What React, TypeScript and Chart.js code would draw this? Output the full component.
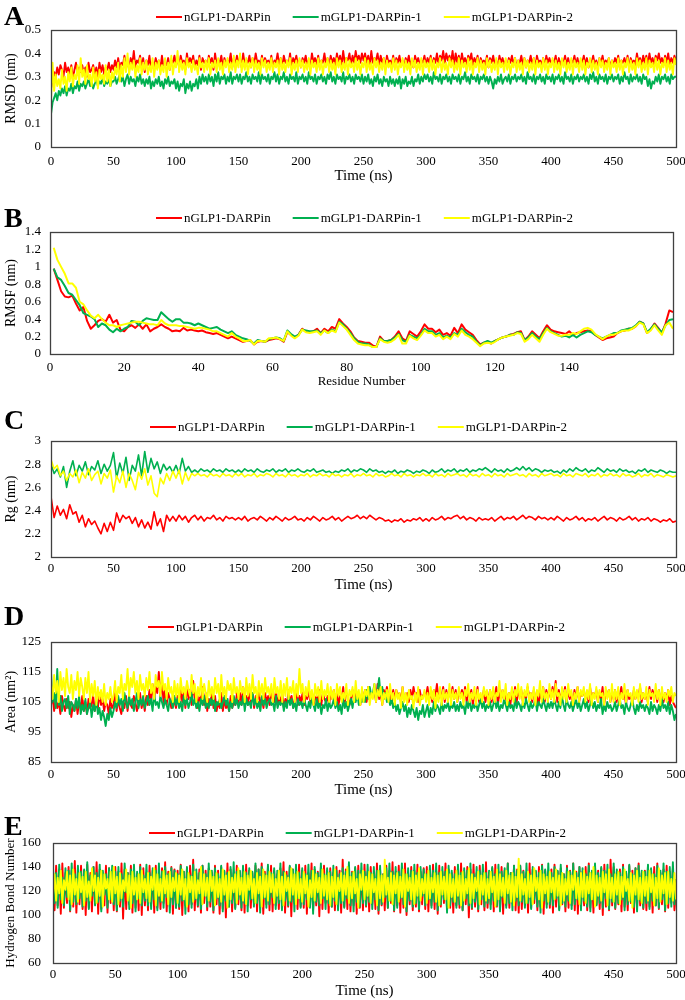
import React, { useEffect, useRef } from "react";
import { Chart, registerables } from "chart.js";

Chart.register(...registerables);

const FONT = "'Liberation Serif', 'Times New Roman', serif";
const SERIES_NAMES = ["nGLP1-DARPin", "mGLP1-DARPin-1", "mGLP1-DARPin-2"];
const SERIES_COLORS = ["#ff0000", "#00b050", "#ffff00"];

// time between stored frames (ns)
const FRAME_STEP_FINE = 1.25; // panels A, D, E
const FRAME_STEP_RG = 2.5;    // panel C

// ---------- A: RMSD (nm), one value every 1.25 ns ----------
const RMSD_N = [
  .25,.29,.32,.30,.34,.31,.35,.33,.30,.36,.32,.34,.31,.35,.29,.33,.36,.31,.34,.32,
  .35,.31,.34,.30,.36,.32,.33,.35,.31,.34,.30,.36,.32,.35,.31,.34,.33,.36,.32,.35,
  .33,.37,.34,.38,.33,.36,.35,.39,.34,.37,.33,.38,.35,.41,.34,.37,.36,.39,.34,.38,
  .32,.37,.35,.39,.33,.36,.34,.38,.35,.37,.33,.39,.34,.36,.35,.38,.33,.37,.36,.39,
  .35,.38,.34,.39,.36,.37,.33,.40,.35,.38,.36,.39,.34,.37,.35,.39,.33,.38,.36,.37,
  .34,.39,.36,.38,.33,.40,.35,.37,.36,.39,.34,.38,.35,.37,.36,.40,.34,.38,.35,.39,
  .36,.38,.34,.40,.35,.37,.36,.39,.34,.38,.35,.40,.36,.37,.34,.39,.35,.38,.36,.37,
  .35,.39,.34,.37,.36,.40,.35,.38,.34,.39,.36,.37,.35,.40,.34,.38,.36,.39,.35,.37,
  .34,.38,.36,.39,.35,.37,.34,.40,.36,.38,.35,.39,.34,.37,.36,.40,.35,.38,.34,.39,
  .36,.38,.35,.40,.36,.39,.35,.41,.36,.38,.37,.40,.35,.39,.36,.41,.37,.39,.36,.40,
  .37,.40,.36,.39,.35,.41,.36,.38,.37,.40,.35,.39,.36,.38,.34,.39,.36,.37,.35,.39,
  .34,.38,.36,.39,.35,.37,.34,.38,.36,.39,.35,.37,.34,.39,.36,.38,.35,.37,.36,.39,
  .35,.38,.36,.39,.34,.38,.36,.40,.35,.39,.37,.41,.36,.40,.37,.39,.36,.41,.35,.40,
  .36,.39,.35,.40,.36,.38,.35,.39,.37,.40,.35,.38,.36,.39,.34,.38,.36,.37,.35,.39,
  .34,.38,.36,.39,.35,.37,.34,.39,.36,.38,.35,.37,.34,.38,.36,.39,.35,.38,.34,.37,
  .36,.39,.35,.38,.34,.37,.36,.39,.35,.38,.34,.39,.36,.37,.35,.38,.34,.39,.36,.38,
  .35,.37,.36,.39,.34,.38,.35,.37,.36,.39,.35,.38,.34,.37,.36,.39,.35,.38,.34,.37,
  .36,.39,.35,.38,.34,.37,.36,.39,.35,.37,.34,.38,.36,.39,.35,.37,.36,.38,.34,.37,
  .35,.38,.36,.39,.34,.37,.36,.38,.35,.39,.34,.38,.36,.37,.35,.40,.36,.38,.35,.39,
  .36,.39,.35,.40,.36,.38,.35,.39,.37,.40,.36,.38,.35,.39,.36,.40,.35,.38,.36,.39,
  .37,
];
const RMSD_M1 = [
  .14,.19,.21,.23,.20,.24,.22,.25,.23,.26,.22,.25,.24,.27,.23,.26,.25,.28,.24,.27,
  .26,.28,.25,.27,.29,.26,.28,.25,.27,.29,.26,.28,.27,.30,.26,.28,.27,.29,.26,.28,
  .28,.30,.27,.29,.31,.28,.30,.26,.29,.31,.27,.30,.28,.29,.26,.30,.28,.31,.27,.29,
  .26,.29,.27,.30,.25,.28,.26,.29,.27,.30,.26,.28,.25,.29,.27,.30,.26,.28,.27,.29,
  .25,.28,.24,.27,.26,.29,.23,.27,.25,.28,.24,.27,.26,.29,.25,.30,.27,.31,.28,.30,
  .27,.31,.28,.30,.26,.31,.28,.32,.27,.30,.29,.31,.27,.30,.28,.32,.27,.30,.29,.31,
  .28,.31,.27,.30,.29,.32,.28,.30,.27,.31,.29,.30,.28,.32,.27,.31,.29,.30,.28,.31,
  .27,.30,.29,.32,.28,.31,.27,.30,.29,.32,.28,.30,.27,.31,.29,.30,.28,.32,.27,.30,
  .29,.31,.28,.30,.27,.32,.29,.30,.28,.31,.27,.30,.29,.31,.28,.30,.27,.31,.29,.32,
  .28,.30,.27,.31,.29,.30,.28,.32,.27,.30,.29,.31,.28,.30,.27,.31,.29,.30,.28,.31,
  .27,.30,.28,.31,.27,.29,.26,.30,.28,.31,.27,.29,.26,.30,.28,.29,.26,.30,.27,.29,
  .26,.29,.27,.30,.25,.29,.27,.30,.26,.28,.27,.30,.26,.29,.28,.31,.27,.30,.28,.31,
  .29,.31,.28,.30,.27,.32,.29,.30,.28,.31,.27,.30,.29,.31,.28,.30,.27,.31,.29,.30,
  .28,.31,.27,.30,.29,.32,.28,.30,.27,.31,.29,.30,.28,.31,.27,.30,.29,.31,.28,.30,
  .27,.30,.28,.25,.29,.27,.30,.28,.31,.27,.29,.30,.28,.31,.27,.30,.29,.31,.28,.30,
  .29,.31,.28,.30,.27,.32,.29,.30,.28,.31,.27,.30,.29,.31,.28,.30,.27,.31,.29,.30,
  .28,.31,.27,.30,.29,.31,.28,.30,.27,.32,.29,.30,.28,.31,.27,.30,.29,.31,.28,.30,
  .29,.31,.28,.30,.27,.31,.29,.32,.28,.30,.27,.31,.29,.30,.28,.31,.27,.30,.29,.31,
  .28,.30,.29,.31,.27,.30,.28,.32,.29,.30,.27,.31,.28,.30,.29,.31,.28,.30,.27,.31,
  .29,.30,.26,.29,.25,.28,.27,.30,.28,.31,.27,.30,.29,.31,.28,.30,.27,.31,.29,.30,
  .30,
];
const RMSD_M2 = [
  .20,.36,.24,.31,.26,.29,.25,.33,.27,.30,.24,.32,.28,.34,.26,.31,.29,.35,.27,.38,
  .30,.33,.27,.35,.29,.31,.26,.34,.28,.32,.25,.33,.29,.31,.27,.35,.28,.33,.26,.32,
  .29,.34,.31,.36,.28,.35,.30,.38,.32,.40,.31,.36,.33,.37,.30,.35,.32,.38,.31,.36,
  .33,.37,.31,.35,.32,.38,.30,.36,.33,.37,.31,.35,.32,.38,.30,.36,.33,.39,.31,.36,
  .34,.41,.32,.37,.33,.36,.31,.38,.34,.36,.32,.37,.33,.35,.31,.38,.34,.36,.32,.37,
  .33,.38,.31,.36,.34,.37,.32,.38,.33,.36,.31,.37,.34,.38,.32,.36,.33,.39,.32,.37,
  .34,.40,.32,.37,.33,.38,.31,.36,.34,.38,.32,.37,.33,.36,.31,.38,.34,.37,.32,.36,
  .33,.38,.32,.36,.34,.37,.31,.38,.33,.36,.32,.37,.34,.38,.31,.36,.33,.37,.32,.38,
  .34,.37,.32,.36,.33,.38,.31,.37,.34,.36,.32,.38,.33,.37,.31,.36,.34,.38,.32,.37,
  .33,.36,.31,.38,.34,.37,.32,.36,.33,.38,.31,.37,.34,.36,.32,.38,.33,.37,.31,.36,
  .34,.38,.32,.37,.33,.36,.31,.38,.34,.37,.32,.36,.33,.38,.31,.37,.34,.36,.32,.38,
  .33,.37,.31,.36,.34,.38,.32,.37,.33,.36,.31,.38,.34,.37,.32,.36,.33,.38,.31,.37,
  .34,.36,.32,.38,.33,.37,.31,.36,.34,.38,.32,.37,.33,.36,.31,.38,.34,.37,.32,.36,
  .33,.38,.31,.37,.34,.36,.32,.38,.33,.37,.31,.36,.34,.38,.32,.37,.33,.36,.31,.38,
  .34,.37,.32,.36,.33,.38,.31,.37,.34,.36,.32,.38,.33,.37,.31,.36,.34,.38,.32,.37,
  .33,.36,.31,.38,.34,.37,.32,.36,.33,.38,.31,.37,.34,.36,.32,.38,.33,.37,.31,.36,
  .34,.38,.32,.37,.33,.36,.31,.38,.34,.37,.32,.36,.33,.38,.31,.37,.34,.36,.32,.38,
  .33,.37,.31,.36,.34,.38,.32,.37,.33,.36,.31,.38,.34,.37,.32,.36,.33,.38,.31,.37,
  .34,.36,.32,.38,.33,.37,.31,.36,.34,.38,.32,.37,.33,.36,.31,.38,.34,.37,.32,.36,
  .33,.38,.31,.37,.34,.36,.32,.38,.33,.37,.31,.36,.34,.38,.32,.37,.33,.36,.31,.38,
  .35,
];

// ---------- B: RMSF (nm) per residue 1..168 ----------
const RMSF_N = [
  .98,.85,.72,.66,.65,.67,.58,.50,.54,.38,
  .29,.33,.38,.40,.37,.45,.36,.39,.28,.26,
  .31,.33,.30,.34,.29,.34,.26,.29,.31,.34,
  .31,.29,.26,.27,.26,.30,.27,.28,.27,.26,
  .27,.25,.24,.23,.24,.22,.20,.18,.20,.18,
  .16,.14,.15,.16,.11,.14,.15,.14,.16,.17,
  .18,.17,.14,.25,.22,.19,.22,.29,.26,.25,
  .26,.29,.24,.29,.26,.31,.29,.40,.35,.31,
  .26,.19,.15,.14,.13,.13,.10,.08,.20,.15,
  .15,.16,.20,.26,.18,.15,.26,.23,.20,.26,
  .34,.29,.29,.25,.28,.22,.24,.21,.30,.24,
  .34,.28,.25,.22,.16,.11,.13,.14,.12,.15,
  .17,.19,.20,.22,.23,.25,.26,.16,.20,.26,
  .22,.18,.26,.33,.28,.26,.25,.24,.23,.26,
  .22,.24,.25,.26,.27,.26,.22,.19,.16,.18,
  .19,.20,.24,.26,.27,.29,.29,.32,.37,.35,
  .24,.28,.35,.30,.24,.35,.50,.48,
];
const RMSF_M1 = [
  .98,.88,.85,.78,.70,.68,.62,.56,.47,.45,
  .43,.40,.31,.35,.33,.28,.25,.29,.26,.29,
  .31,.38,.37,.33,.38,.41,.40,.39,.39,.48,
  .44,.40,.37,.40,.40,.36,.36,.35,.33,.35,
  .33,.31,.29,.30,.31,.28,.26,.24,.26,.22,
  .20,.18,.17,.15,.12,.16,.15,.14,.17,.18,
  .19,.18,.15,.27,.23,.20,.22,.28,.27,.26,
  .26,.27,.24,.27,.24,.28,.26,.37,.34,.29,
  .24,.18,.14,.12,.12,.11,.08,.08,.18,.15,
  .15,.16,.19,.23,.16,.14,.22,.20,.18,.22,
  .29,.26,.26,.22,.24,.19,.21,.19,.24,.22,
  .29,.25,.22,.20,.14,.10,.13,.15,.13,.15,
  .17,.19,.20,.22,.22,.25,.24,.16,.19,.24,
  .20,.17,.24,.30,.26,.24,.22,.20,.21,.19,
  .22,.19,.22,.24,.26,.25,.22,.20,.18,.20,
  .22,.24,.24,.27,.28,.29,.30,.33,.37,.35,
  .25,.29,.34,.29,.25,.33,.39,.40,
];
const RMSF_M2 = [
  1.22,1.08,1.00,.92,.81,.81,.76,.60,.57,.50,
  .44,.41,.45,.40,.36,.33,.33,.31,.33,.34,
  .35,.36,.37,.37,.36,.35,.34,.34,.33,.39,
  .35,.33,.33,.33,.32,.32,.31,.30,.29,.30,
  .30,.29,.28,.26,.26,.24,.22,.20,.24,.20,
  .18,.15,.15,.16,.11,.15,.15,.14,.18,.18,
  .19,.17,.15,.26,.21,.18,.21,.28,.25,.24,
  .25,.26,.22,.27,.24,.27,.25,.36,.32,.28,
  .22,.16,.12,.11,.10,.10,.08,.08,.17,.14,
  .13,.14,.17,.22,.12,.12,.21,.18,.16,.21,
  .27,.24,.24,.20,.22,.17,.20,.17,.23,.20,
  .27,.22,.20,.17,.13,.09,.12,.13,.12,.14,
  .17,.19,.20,.21,.22,.24,.23,.14,.17,.22,
  .18,.14,.22,.29,.25,.23,.21,.21,.22,.22,
  .24,.23,.26,.29,.30,.28,.23,.20,.17,.20,
  .22,.22,.24,.26,.27,.27,.29,.32,.36,.34,
  .24,.27,.33,.27,.22,.33,.36,.29,
];

// ---------- C: Rg (nm), one value every 2.5 ns ----------
const RG_N = [
  2.52,2.34,2.44,2.36,2.41,2.33,2.45,2.37,2.39,2.30,2.36,2.26,2.33,2.28,2.31,2.25,2.20,2.29,2.22,2.30,
  2.23,2.38,2.30,2.36,2.33,2.35,2.29,2.34,2.26,2.32,2.25,2.30,2.24,2.39,2.27,2.33,2.22,2.36,2.31,2.35,
  2.31,2.36,2.32,2.35,2.30,2.34,2.36,2.32,2.35,2.31,2.34,2.33,2.36,2.32,2.34,2.31,2.35,2.33,2.34,2.32,
  2.34,2.32,2.35,2.31,2.33,2.34,2.32,2.35,2.33,2.31,2.34,2.32,2.35,2.33,2.31,2.34,2.32,2.33,2.35,2.32,
  2.33,2.31,2.34,2.32,2.35,2.33,2.31,2.34,2.32,2.33,2.35,2.32,2.34,2.31,2.33,2.35,2.33,2.34,2.36,2.33,
  2.35,2.33,2.36,2.34,2.32,2.34,2.33,2.31,2.32,2.30,2.32,2.31,2.33,2.30,2.32,2.31,2.33,2.32,2.34,2.31,
  2.33,2.31,2.34,2.32,2.33,2.35,2.32,2.34,2.33,2.35,2.36,2.33,2.35,2.32,2.34,2.33,2.31,2.34,2.32,2.33,
  2.32,2.34,2.31,2.33,2.35,2.32,2.34,2.33,2.35,2.32,2.34,2.36,2.33,2.35,2.34,2.32,2.35,2.33,2.34,2.32,
  2.34,2.32,2.35,2.33,2.31,2.34,2.32,2.33,2.35,2.32,2.34,2.31,2.33,2.32,2.34,2.31,2.33,2.35,2.32,2.34,
  2.33,2.31,2.34,2.32,2.33,2.35,2.32,2.34,2.31,2.33,2.32,2.34,2.31,2.33,2.32,2.30,2.32,2.31,2.33,2.30,
  2.31,
];
const RG_M1 = [
  2.80,2.72,2.76,2.69,2.78,2.60,2.74,2.83,2.70,2.79,2.74,2.82,2.71,2.78,2.75,2.83,2.72,2.80,2.74,2.79,
  2.90,2.68,2.81,2.72,2.86,2.66,2.79,2.74,2.88,2.70,2.91,2.73,2.85,2.76,2.82,2.72,2.80,2.75,2.78,2.73,
  2.79,2.72,2.85,2.74,2.78,2.73,2.75,2.73,2.76,2.74,2.75,2.73,2.76,2.74,2.75,2.73,2.76,2.74,2.75,2.73,
  2.75,2.73,2.76,2.74,2.75,2.73,2.76,2.74,2.73,2.75,2.74,2.76,2.73,2.75,2.74,2.76,2.73,2.75,2.74,2.76,
  2.74,2.73,2.75,2.74,2.76,2.73,2.74,2.75,2.73,2.74,2.72,2.74,2.73,2.75,2.74,2.76,2.73,2.75,2.74,2.76,
  2.75,2.73,2.76,2.74,2.75,2.73,2.74,2.72,2.74,2.73,2.75,2.72,2.74,2.73,2.75,2.74,2.72,2.74,2.73,2.75,
  2.74,2.72,2.75,2.73,2.74,2.76,2.73,2.75,2.74,2.76,2.73,2.75,2.74,2.76,2.73,2.75,2.74,2.76,2.75,2.77,
  2.75,2.73,2.76,2.74,2.75,2.73,2.76,2.74,2.75,2.77,2.75,2.78,2.75,2.77,2.74,2.76,2.75,2.73,2.75,2.74,
  2.75,2.73,2.74,2.72,2.75,2.73,2.76,2.74,2.77,2.75,2.74,2.76,2.73,2.75,2.74,2.77,2.75,2.73,2.76,2.74,
  2.75,2.73,2.76,2.74,2.75,2.73,2.74,2.72,2.75,2.74,2.76,2.73,2.75,2.74,2.73,2.75,2.74,2.72,2.74,2.73,
  2.73,
];
const RG_M2 = [
  2.84,2.76,2.79,2.70,2.74,2.66,2.72,2.69,2.75,2.64,2.73,2.68,2.76,2.66,2.71,2.74,2.63,2.72,2.68,2.75,
  2.56,2.70,2.64,2.74,2.60,2.72,2.66,2.58,2.73,2.67,2.76,2.62,2.70,2.55,2.52,2.68,2.63,2.72,2.66,2.74,
  2.68,2.75,2.63,2.73,2.66,2.72,2.70,2.72,2.70,2.71,2.69,2.72,2.70,2.71,2.69,2.72,2.70,2.71,2.69,2.72,
  2.70,2.72,2.69,2.71,2.70,2.72,2.69,2.71,2.70,2.72,2.71,2.69,2.72,2.70,2.71,2.69,2.72,2.70,2.71,2.69,
  2.71,2.70,2.72,2.69,2.71,2.70,2.72,2.70,2.71,2.69,2.72,2.70,2.71,2.69,2.71,2.70,2.72,2.69,2.71,2.70,
  2.72,2.70,2.71,2.69,2.72,2.70,2.71,2.69,2.70,2.72,2.70,2.71,2.69,2.72,2.70,2.71,2.69,2.71,2.70,2.72,
  2.70,2.71,2.69,2.72,2.70,2.71,2.69,2.72,2.70,2.71,2.72,2.70,2.71,2.69,2.72,2.70,2.71,2.69,2.72,2.70,
  2.71,2.69,2.72,2.70,2.71,2.69,2.72,2.70,2.71,2.72,2.70,2.71,2.69,2.72,2.70,2.71,2.69,2.72,2.70,2.71,
  2.72,2.70,2.71,2.69,2.72,2.70,2.71,2.69,2.72,2.71,2.70,2.72,2.69,2.71,2.70,2.72,2.69,2.71,2.70,2.72,
  2.70,2.71,2.69,2.72,2.70,2.71,2.69,2.70,2.72,2.69,2.71,2.70,2.72,2.69,2.71,2.70,2.69,2.71,2.70,2.69,
  2.70,
];

// ---------- D: Area (nm²), one value every 1.25 ns ----------
const AREA_N = [
  104,107,102,106,103,105,101,107,104,102,106,103,105,100,104,102,106,101,105,103,
  107,102,105,101,106,103,104,107,102,105,103,108,104,106,102,105,104,101,106,103,
  104,108,102,106,103,101,105,103,107,102,106,104,103,107,105,102,104,108,103,106,
  102,107,104,109,105,111,106,110,108,115,107,112,105,109,104,108,106,103,107,105,
  103,107,104,110,105,108,103,111,106,109,104,112,106,108,103,107,105,110,104,108,
  102,106,104,109,103,107,102,105,103,108,102,106,103,104,102,107,103,105,104,108,
  105,108,104,110,106,107,104,109,105,108,103,107,105,109,104,106,103,108,105,107,
  104,108,106,105,109,104,107,105,108,103,106,104,109,105,107,103,106,108,104,107,
  105,108,104,107,106,109,105,108,104,106,107,105,109,104,108,106,105,107,104,108,
  106,109,105,108,104,107,106,110,105,108,107,104,106,109,105,108,106,107,104,108,
  107,109,105,110,106,108,107,109,105,111,106,108,104,109,107,110,106,108,105,109,
  106,109,107,108,105,110,106,107,108,105,109,106,110,107,108,105,109,106,107,108,
  107,110,106,108,105,109,107,111,106,108,107,110,105,109,106,108,107,110,106,109,
  105,108,107,109,106,110,105,108,107,109,104,108,106,110,105,107,106,109,105,108,
  106,109,105,108,107,110,104,108,106,109,105,107,106,108,104,109,106,110,105,108,
  107,109,105,108,106,110,107,108,105,109,106,107,104,108,106,110,105,109,107,108,
  106,110,107,112,105,109,106,108,107,110,105,109,106,108,104,109,106,110,105,108,
  107,109,106,108,105,110,106,108,107,109,105,108,106,110,104,108,107,109,105,108,
  106,109,105,108,107,110,106,108,104,109,106,107,105,109,106,108,107,110,105,108,
  106,108,105,110,106,109,107,108,105,109,106,107,105,108,106,109,104,107,105,104,
  103,
];
const AREA_M1 = [
  115,105,108,103,116,104,107,102,105,106,103,107,101,105,104,102,106,103,107,101,
  104,102,106,101,103,105,100,104,102,106,101,103,99,102,100,97,101,99,103,100,
  102,105,103,107,104,106,102,108,105,103,107,104,106,102,105,108,103,106,104,107,
  103,105,107,104,106,102,108,104,105,103,107,105,103,106,104,102,106,105,103,107,
  104,106,103,105,102,107,104,106,103,105,108,104,106,103,105,102,106,104,107,103,
  105,103,106,104,107,102,105,104,106,103,105,107,104,106,102,105,103,107,104,106,
  103,105,104,107,102,106,104,105,103,108,104,106,103,105,102,107,104,106,103,105,
  106,104,105,102,107,103,105,104,106,102,105,103,107,104,106,103,105,102,106,104,
  105,103,106,104,102,105,103,107,104,102,106,103,105,101,104,103,106,102,105,103,
  104,106,103,105,102,104,101,106,103,105,102,104,106,103,107,105,108,104,106,105,
  107,105,109,106,110,107,108,111,106,109,113,107,110,106,108,105,107,104,106,103,
  105,102,104,101,103,105,102,104,100,103,101,104,102,100,103,99,102,101,104,100,
  102,104,100,103,101,105,102,104,103,101,105,102,104,103,105,102,104,103,105,102,
  104,102,105,103,104,101,105,103,106,102,104,103,105,102,104,106,103,105,102,104,
  103,105,102,104,106,103,105,102,104,103,106,104,102,105,103,104,102,106,103,105,
  104,102,105,103,106,104,102,105,103,104,106,102,105,104,103,106,104,102,105,103,
  105,103,106,104,102,105,103,107,104,102,106,104,103,105,102,104,106,103,105,102,
  104,106,103,105,102,104,106,103,105,102,104,103,106,101,104,102,105,103,104,102,
  103,105,102,104,106,103,104,101,105,103,102,104,106,103,101,104,102,105,103,104,
  102,104,103,101,105,102,104,103,101,104,102,106,103,104,102,105,101,104,102,99,
  101,
];
const AREA_M2 = [
  111,106,114,108,112,105,115,109,113,107,116,110,108,114,106,112,109,115,107,113,
  110,106,113,108,115,105,111,107,112,104,110,106,109,105,111,104,108,106,110,105,
  107,112,105,110,108,114,106,111,109,116,107,113,110,115,108,112,106,114,109,111,
  107,113,109,115,108,111,106,114,110,112,107,115,109,111,106,113,108,110,105,112,
  107,111,105,113,108,110,106,112,109,107,114,108,111,105,110,107,113,106,111,108,
  105,112,107,110,106,113,108,111,105,114,107,110,106,112,109,111,105,113,108,110,
  106,112,108,110,105,113,107,111,106,114,108,110,105,112,107,111,106,113,108,110,
  107,111,105,113,108,110,106,112,105,111,107,113,106,110,108,112,105,111,107,116,
  108,111,105,110,107,112,106,109,104,111,107,110,105,112,106,109,107,111,105,110,
  106,109,104,111,107,110,105,108,106,111,104,109,107,110,105,112,106,109,104,110,
  105,109,107,110,104,108,106,111,105,109,107,110,104,108,106,109,105,111,106,108,
  104,109,106,108,103,110,105,108,104,109,106,107,103,108,105,110,104,107,106,109,
  105,108,104,110,106,109,103,108,105,110,104,109,106,108,105,111,104,109,106,108,
  105,110,106,108,104,109,107,111,105,108,106,110,104,109,106,108,105,110,107,109,
  104,109,106,110,105,108,107,112,105,109,106,111,104,108,106,110,105,109,107,111,
  106,110,104,109,107,111,105,108,106,110,104,109,107,112,105,110,106,108,105,111,
  106,109,105,111,107,108,104,110,106,109,105,111,107,109,104,108,106,110,105,109,
  107,110,105,109,106,111,104,108,106,110,105,109,107,108,104,110,106,109,105,111,
  105,109,106,110,104,108,106,111,105,109,107,108,104,110,106,109,105,111,106,108,
  106,110,104,109,107,108,105,111,106,109,104,110,106,108,105,109,107,110,105,108,
  107,
];

// ---------- E: Hydrogen bond number, one value every 1.25 ns ----------
const HB_N = [
  136,104,141,108,138,101,143,106,135,110,140,103,137,107,145,102,134,109,141,105,
  137,100,142,106,135,103,140,109,144,101,138,105,134,108,141,102,139,110,136,104,
  140,103,136,107,143,97,138,105,135,109,141,102,137,106,134,104,142,100,139,108,
  135,104,141,109,137,102,141,106,134,105,139,110,144,103,136,107,140,101,138,106,
  137,105,142,100,136,108,139,103,141,109,146,104,135,107,138,102,141,110,137,104,
  139,107,135,102,141,109,137,101,140,105,136,98,143,107,138,103,135,106,141,109,
  136,104,140,102,142,108,137,106,135,110,141,103,138,107,143,101,136,109,140,104,
  141,103,137,108,134,105,139,109,144,102,136,107,140,99,138,110,135,105,142,107,
  137,106,141,101,135,109,143,104,138,108,136,99,140,105,141,110,137,102,139,107,
  135,104,140,109,137,102,146,107,138,105,141,103,136,108,139,101,141,106,137,104,
  142,107,136,103,140,109,135,105,143,101,138,108,134,104,141,106,137,110,144,103,
  136,108,141,102,138,106,143,100,135,109,140,104,137,107,142,103,136,109,139,105,
  140,103,135,108,142,105,137,101,141,107,136,110,143,104,138,106,135,102,140,108,
  137,106,143,104,136,109,140,98,138,105,142,107,135,103,141,109,137,104,144,106,
  135,109,139,103,142,107,136,105,140,101,137,108,143,106,135,110,141,104,138,102,
  141,105,137,108,135,102,143,106,138,110,136,104,140,107,142,101,137,109,135,106,
  138,102,142,107,136,105,139,109,134,103,141,106,137,108,143,104,136,101,140,107,
  136,108,140,104,143,106,135,102,141,109,137,105,139,100,142,107,136,104,146,108,
  140,105,136,109,138,103,142,107,135,104,141,110,137,102,139,106,143,108,135,105,
  137,104,141,107,136,102,140,108,143,105,135,109,138,103,141,106,136,110,139,104,
  120,
];
const HB_M1 = [
  140,110,135,106,142,113,131,108,139,115,137,104,143,111,134,109,141,114,136,107,
  138,112,144,105,133,116,140,108,135,111,142,103,137,117,134,106,139,113,141,109,
  136,104,140,112,134,107,143,119,135,105,138,110,142,103,136,114,140,108,133,112,
  142,108,135,105,139,113,137,104,143,111,136,106,140,115,134,102,139,109,137,106,
  134,107,141,112,136,101,140,109,133,106,142,113,138,108,135,105,141,116,134,107,
  143,111,137,104,139,114,134,108,141,103,137,112,135,107,140,110,144,105,136,113,
  137,106,141,110,135,103,139,113,136,107,143,110,138,102,140,114,134,106,142,109,
  135,115,139,105,137,110,143,104,136,112,133,108,141,111,138,103,142,114,135,106,
  139,109,134,113,142,106,137,101,140,111,135,108,143,114,134,105,139,110,136,107,
  141,112,137,104,134,110,139,106,136,114,144,108,135,103,140,111,137,107,143,110,
  136,108,142,111,135,105,140,113,137,104,141,109,134,115,139,106,143,112,136,104,
  140,106,136,114,143,109,134,103,139,112,137,107,142,110,135,105,140,116,138,108,
  134,113,141,106,137,111,143,104,135,109,140,113,136,102,141,108,137,111,134,106,
  142,109,135,104,139,114,137,108,143,106,134,111,140,105,137,113,142,107,135,110,
  137,105,140,112,134,108,142,103,136,115,139,106,143,110,135,104,141,112,137,108,
  141,111,136,106,143,110,134,105,140,113,137,107,135,102,141,112,138,106,143,109,
  135,108,140,114,137,104,142,110,134,107,139,112,136,105,143,109,135,113,140,104,
  139,112,134,107,141,103,137,113,143,108,135,110,140,106,137,114,142,105,134,111,
  143,106,138,110,135,113,140,104,136,109,142,111,134,107,139,103,141,112,137,106,
  136,110,142,105,139,112,134,108,141,106,137,113,143,104,136,110,140,107,144,109,
  130,
];
const HB_M2 = [
  116,134,112,131,118,137,110,129,121,136,113,133,109,138,117,130,111,135,119,132,
  108,136,115,128,112,139,120,133,110,131,116,137,107,134,122,130,113,136,111,140,
  118,132,109,135,114,129,120,138,112,133,106,136,117,131,113,134,110,137,119,130,
  114,135,111,132,121,139,108,134,116,130,112,137,118,133,109,136,115,131,120,135,
  110,133,117,138,113,130,107,135,119,132,111,136,114,129,118,140,109,134,116,131,
  112,137,120,132,108,135,115,130,111,138,117,133,106,136,113,131,119,134,110,139,
  117,131,112,136,109,133,121,137,114,130,110,135,118,132,107,138,115,133,112,136,
  119,134,110,130,116,137,113,132,108,135,120,131,112,139,117,134,109,136,114,130,
  111,136,118,133,107,129,115,137,112,134,119,131,110,138,116,133,113,135,108,132,
  115,138,109,131,120,135,112,133,117,140,110,132,114,136,118,130,106,134,121,137,
  113,132,116,136,110,134,119,130,108,137,114,133,111,146,117,131,112,135,109,133,
  118,135,111,132,115,138,107,134,120,131,113,136,109,133,116,139,112,130,118,134,
  110,137,114,131,119,135,111,133,108,136,117,132,113,138,106,134,115,130,111,137,
  116,133,108,136,112,130,118,139,110,134,114,131,120,136,109,133,117,135,112,130,
  114,136,119,132,107,138,113,134,116,131,110,137,118,133,111,135,108,132,115,147,
  112,134,117,130,110,136,115,133,109,139,120,131,113,137,106,134,118,132,111,136,
  119,131,113,138,116,133,108,135,112,130,117,136,110,133,121,137,114,131,109,135,
  115,137,110,132,118,135,113,140,107,133,116,131,112,136,119,134,108,138,114,131,
  111,134,117,136,109,132,115,138,120,130,112,135,106,133,117,137,113,131,110,136,
  116,132,112,137,119,134,108,131,114,139,111,133,118,135,109,136,115,130,112,135,
  113,
];

type PanelCfg = {
  letter: string;
  top: number; h: number;
  plotTop: number; plotBottom: number; plotLeft: number; plotRight: number;
  xLabelY: number; xTitleY: number; xTitle: string; xTitleSize: number;
  yTitle: string; yTitleSize: number;
  letterY: number; legendX: number; legendY: number;
  xMin: number; xMax: number; xStep: number;
  yMin: number; yMax: number; yStep: number;
  lineWidth: number;
  series: number[][];
  xOf: (i: number) => number;
};

const fineTime = (i: number) => i * FRAME_STEP_FINE;
const rgTime = (i: number) => i * FRAME_STEP_RG;
const residueOf = (i: number) => i + 1;

const PANELS: PanelCfg[] = [
  { letter: "A", top: 0, h: 190, plotTop: 30, plotBottom: 147, plotLeft: 51, plotRight: 676,
    xLabelY: 162, xTitleY: 176, xTitle: "Time (ns)", xTitleSize: 15, yTitle: "RMSD (nm)", yTitleSize: 14,
    letterY: 25, legendX: 156, legendY: 17, xMin: 0, xMax: 500, xStep: 50, yMin: 0, yMax: 0.5, yStep: 0.1,
    lineWidth: 1.9, series: [RMSD_N, RMSD_M1, RMSD_M2], xOf: fineTime },
  { letter: "B", top: 193, h: 200, plotTop: 232, plotBottom: 354, plotLeft: 50, plotRight: 673,
    xLabelY: 368, xTitleY: 382, xTitle: "Residue Number", xTitleSize: 13, yTitle: "RMSF (nm)", yTitleSize: 14,
    letterY: 227, legendX: 156, legendY: 218, xMin: 0, xMax: 168, xStep: 20, yMin: 0, yMax: 1.4, yStep: 0.2,
    lineWidth: 2, series: [RMSF_N, RMSF_M1, RMSF_M2], xOf: residueOf },
  { letter: "C", top: 398, h: 200, plotTop: 441, plotBottom: 557, plotLeft: 51, plotRight: 676,
    xLabelY: 569, xTitleY: 585, xTitle: "Time (ns)", xTitleSize: 15, yTitle: "Rg (nm)", yTitleSize: 14,
    letterY: 429, legendX: 150, legendY: 427, xMin: 0, xMax: 500, xStep: 50, yMin: 2, yMax: 3, yStep: 0.2,
    lineWidth: 1.6, series: [RG_N, RG_M1, RG_M2], xOf: rgTime },
  { letter: "D", top: 598, h: 203, plotTop: 642, plotBottom: 762, plotLeft: 51, plotRight: 676,
    xLabelY: 775, xTitleY: 790, xTitle: "Time (ns)", xTitleSize: 15, yTitle: "Area (nm²)", yTitleSize: 14,
    letterY: 625, legendX: 148, legendY: 627, xMin: 0, xMax: 500, xStep: 50, yMin: 85, yMax: 125, yStep: 10,
    lineWidth: 1.9, series: [AREA_N, AREA_M1, AREA_M2], xOf: fineTime },
  { letter: "E", top: 802, h: 198, plotTop: 843, plotBottom: 963, plotLeft: 53, plotRight: 676,
    xLabelY: 975, xTitleY: 991, xTitle: "Time (ns)", xTitleSize: 15, yTitle: "Hydrogen Bond Number", yTitleSize: 13,
    letterY: 835, legendX: 149, legendY: 833, xMin: 0, xMax: 500, xStep: 50, yMin: 60, yMax: 160, yStep: 20,
    lineWidth: 1.9, series: [HB_N, HB_M1, HB_M2], xOf: fineTime },
];

function makeDecor(cfg: PanelCfg) {
  return {
    id: "decor" + cfg.letter,
    afterDraw(chart: any) {
      const { ctx, chartArea: a } = chart;
      ctx.save();
      ctx.strokeStyle = "#404040";
      ctx.lineWidth = 1.3;
      ctx.strokeRect(Math.round(a.left) + 0.5, Math.round(a.top) + 0.5,
        Math.round(a.right - a.left), Math.round(a.bottom - a.top));
      ctx.fillStyle = "#000";
      ctx.textAlign = "left";
      ctx.textBaseline = "alphabetic";
      ctx.font = `bold 28px ${FONT}`;
      ctx.fillText(cfg.letter, 4, cfg.letterY - cfg.top);
      ctx.font = `13px ${FONT}`;
      ctx.textBaseline = "middle";
      const ly = cfg.legendY - cfg.top;
      let x = cfg.legendX;
      SERIES_NAMES.forEach((name, i) => {
        ctx.strokeStyle = SERIES_COLORS[i];
        ctx.lineWidth = 2;
        ctx.beginPath();
        ctx.moveTo(x, ly);
        ctx.lineTo(x + 26, ly);
        ctx.stroke();
        ctx.fillStyle = "#000";
        ctx.fillText(name, x + 28, ly + 1);
        x += 28 + ctx.measureText(name).width + 22;
      });
      ctx.restore();
    },
  };
}

const fmt = (v: number) => String(Math.round(v * 10) / 10);

function Panel({ cfg }: { cfg: PanelCfg }) {
  const ref = useRef<HTMLCanvasElement>(null);
  useEffect(() => {
    const canvas = ref.current!;
    const bottomEdge = cfg.top + cfg.h;
    const tickFont = { family: FONT, size: 13 };
    const xTitleLH = cfg.xTitleSize * 1.2;
    const yTitleLH = cfg.yTitleSize * 1.2;
    const order = [3, 2, 1];
    const chart = new Chart(canvas, {
      type: "line",
      data: {
        datasets: cfg.series.map((vals, si) => ({
          label: SERIES_NAMES[si],
          data: vals.map((v, i) => ({ x: cfg.xOf(i), y: v })),
          borderColor: SERIES_COLORS[si],
          backgroundColor: SERIES_COLORS[si],
          borderWidth: cfg.lineWidth,
          borderJoinStyle: "round",
          pointRadius: 0,
          tension: 0,
          fill: false,
          order: order[si],
        })),
      },
      options: {
        animation: false,
        responsive: false,
        maintainAspectRatio: false,
        events: [],
        layout: { padding: { top: cfg.plotTop - cfg.top, left: 0, right: 685 - cfg.plotRight, bottom: 0 } },
        plugins: { legend: { display: false }, tooltip: { enabled: false }, title: { display: false } },
        scales: {
          x: {
            type: "linear",
            min: cfg.xMin,
            max: cfg.xMax,
            grid: { display: false, drawTicks: false },
            border: { display: false },
            afterBuildTicks: (s: any) => {
              s.ticks = s.ticks.filter((t: any) => Math.abs(t.value / cfg.xStep - Math.round(t.value / cfg.xStep)) < 1e-6);
            },
            ticks: {
              stepSize: cfg.xStep,
              autoSkip: false,
              maxRotation: 0,
              color: "#000",
              font: tickFont,
              padding: cfg.xLabelY - cfg.plotBottom - 7.8,
            },
            title: {
              display: true,
              text: cfg.xTitle,
              color: "#000",
              font: { family: FONT, size: cfg.xTitleSize },
              padding: { top: 0, bottom: Math.max(0, bottomEdge - xTitleLH / 2 - cfg.xTitleY) },
            },
            afterFit: (s: any) => {
              s.height = bottomEdge - cfg.plotBottom;
              s.paddingLeft = 0;
              s.paddingRight = 0;
            },
          },
          y: {
            type: "linear",
            min: cfg.yMin,
            max: cfg.yMax,
            grid: { display: false, drawTicks: false },
            border: { display: false },
            ticks: {
              stepSize: cfg.yStep,
              autoSkip: false,
              color: "#000",
              font: tickFont,
              padding: cfg.plotLeft - 41,
              callback: (v: any) => fmt(Number(v)),
            },
            title: {
              display: true,
              text: cfg.yTitle,
              color: "#000",
              font: { family: FONT, size: cfg.yTitleSize },
              padding: { top: Math.max(0, 11 - yTitleLH / 2), bottom: 0 },
            },
            afterFit: (s: any) => {
              s.width = cfg.plotLeft;
              s.paddingTop = 0;
              s.paddingBottom = 0;
            },
          },
        },
      },
      plugins: [makeDecor(cfg)],
    } as any);
    return () => chart.destroy();
  }, [cfg]);
  return (
    <canvas
      ref={ref}
      width={685}
      height={cfg.h}
      style={{ position: "absolute", left: 0, top: cfg.top, width: 685, height: cfg.h, display: "block" }}
    />
  );
}

export default function App() {
  return (
    <div style={{ position: "absolute", left: 0, top: 0, width: 685, height: 1000, background: "#fff", overflow: "hidden" }}>
      {PANELS.map((p) => (
        <Panel key={p.letter} cfg={p} />
      ))}
    </div>
  );
}
